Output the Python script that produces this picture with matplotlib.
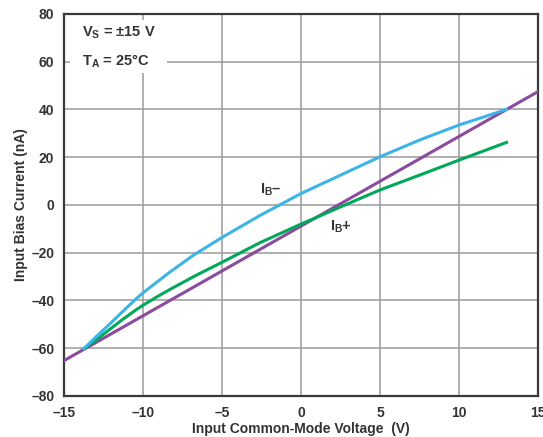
import numpy as np
import matplotlib
matplotlib.use("Agg")
import matplotlib.pyplot as plt
from matplotlib.patches import Rectangle

plt.rcParams['font.family'] = ['Liberation Sans', 'DejaVu Sans']
plt.rcParams['mathtext.fontset'] = 'custom'
plt.rcParams['mathtext.rm'] = 'Liberation Sans'
plt.rcParams['mathtext.bf'] = 'Liberation Sans:bold'

# values
ib_minus_v = [-13.75, -12.97, -12.13, -11.3, -10.44, -10, -9.1, -8.3, -6.8, -5, -2.6, 0,
              2.5, 5, 7.5, 10, 13]
ib_minus_i = [-60.2, -55.2, -50.0, -44.7, -39.3, -36.8, -32.2, -28.1, -21.0, -13.6, -4.4, 4.8,
              12.5, 20.2, 27.2, 33.5, 40.0]

ib_plus_v = [-13.75, -12.97, -12.13, -11.3, -10.44, -10, -9.1, -8.3, -6.8, -5, -2.6, 0,
             2.5, 5, 7.5, 10, 13]
ib_plus_i = [-60.2, -56.6, -52.2, -48.0, -43.9, -42.0, -38.4, -35.4, -30.0, -24.0, -15.8, -8.0,
             -0.8, 6.3, 12.5, 18.8, 26.2]

cal_v = [-15, 15]
cal_i = [-65.2, 47.5]

xticks = [-15, -10, -5, 0, 5, 10, 15]
yticks = [-80, -60, -40, -20, 0, 20, 40, 60, 80]

dark = '#333333'
fig = plt.figure(figsize=(5.43, 4.37), dpi=100)
ax = fig.add_axes([0.118, 0.094, 0.873, 0.874])

ax.plot(cal_v, cal_i, color='#8a4a9e', lw=2.2, zorder=3)
ax.plot(ib_plus_v, ib_plus_i, color='#00a85a', lw=2.2, zorder=4)
ax.plot(ib_minus_v, ib_minus_i, color='#3cb4e5', lw=2.2, zorder=5)

ax.set_xlim(-15, 15)
ax.set_ylim(-80, 80)
ax.set_xticks(xticks)
ax.set_yticks(yticks)
ax.set_xticklabels([str(t).replace('-', '–') for t in xticks])
ax.set_yticklabels([str(t).replace('-', '–') for t in yticks])
ax.tick_params(length=0, labelsize=10, labelcolor=dark, pad=7)
for lab in ax.get_xticklabels() + ax.get_yticklabels():
    lab.set_fontweight('bold')
ax.grid(True, color='#9a9a9a', lw=1.1, zorder=1)
for s in ax.spines.values():
    s.set_color('#3a3a3a')
    s.set_linewidth(1.6)

ax.set_xlabel('Input Common-Mode Voltage  (V)', fontsize=10, fontweight='bold',
              color=dark, labelpad=2)
ax.set_ylabel('Input Bias Current (nA)', fontsize=10, fontweight='bold',
              color=dark, labelpad=2)

# white block behind the conditions text
ax.add_patch(Rectangle((-14.6, 55.2), 6.1, 22.2, facecolor='white',
                       edgecolor='none', zorder=2))
ax.text(-13.85, 72, '$\\mathbf{V_S}$ = ±15 V', fontsize=10.5, fontweight='bold',
        color=dark, va='center', ha='left', zorder=6)
ax.text(-13.85, 60.2, '$\\mathbf{T_A}$ = 25°C', fontsize=10.5, fontweight='bold',
        color=dark, va='center', ha='left', zorder=6)

ax.text(-2.6, 6.5, '$\\mathbf{I_B}$–', fontsize=10.5, fontweight='bold', color=dark,
        va='center', ha='left', zorder=6)
ax.text(1.8, -9.2, '$\\mathbf{I_B}$+', fontsize=10.5, fontweight='bold', color=dark,
        va='center', ha='left', zorder=6)

fig.savefig('out.png', dpi=100)
